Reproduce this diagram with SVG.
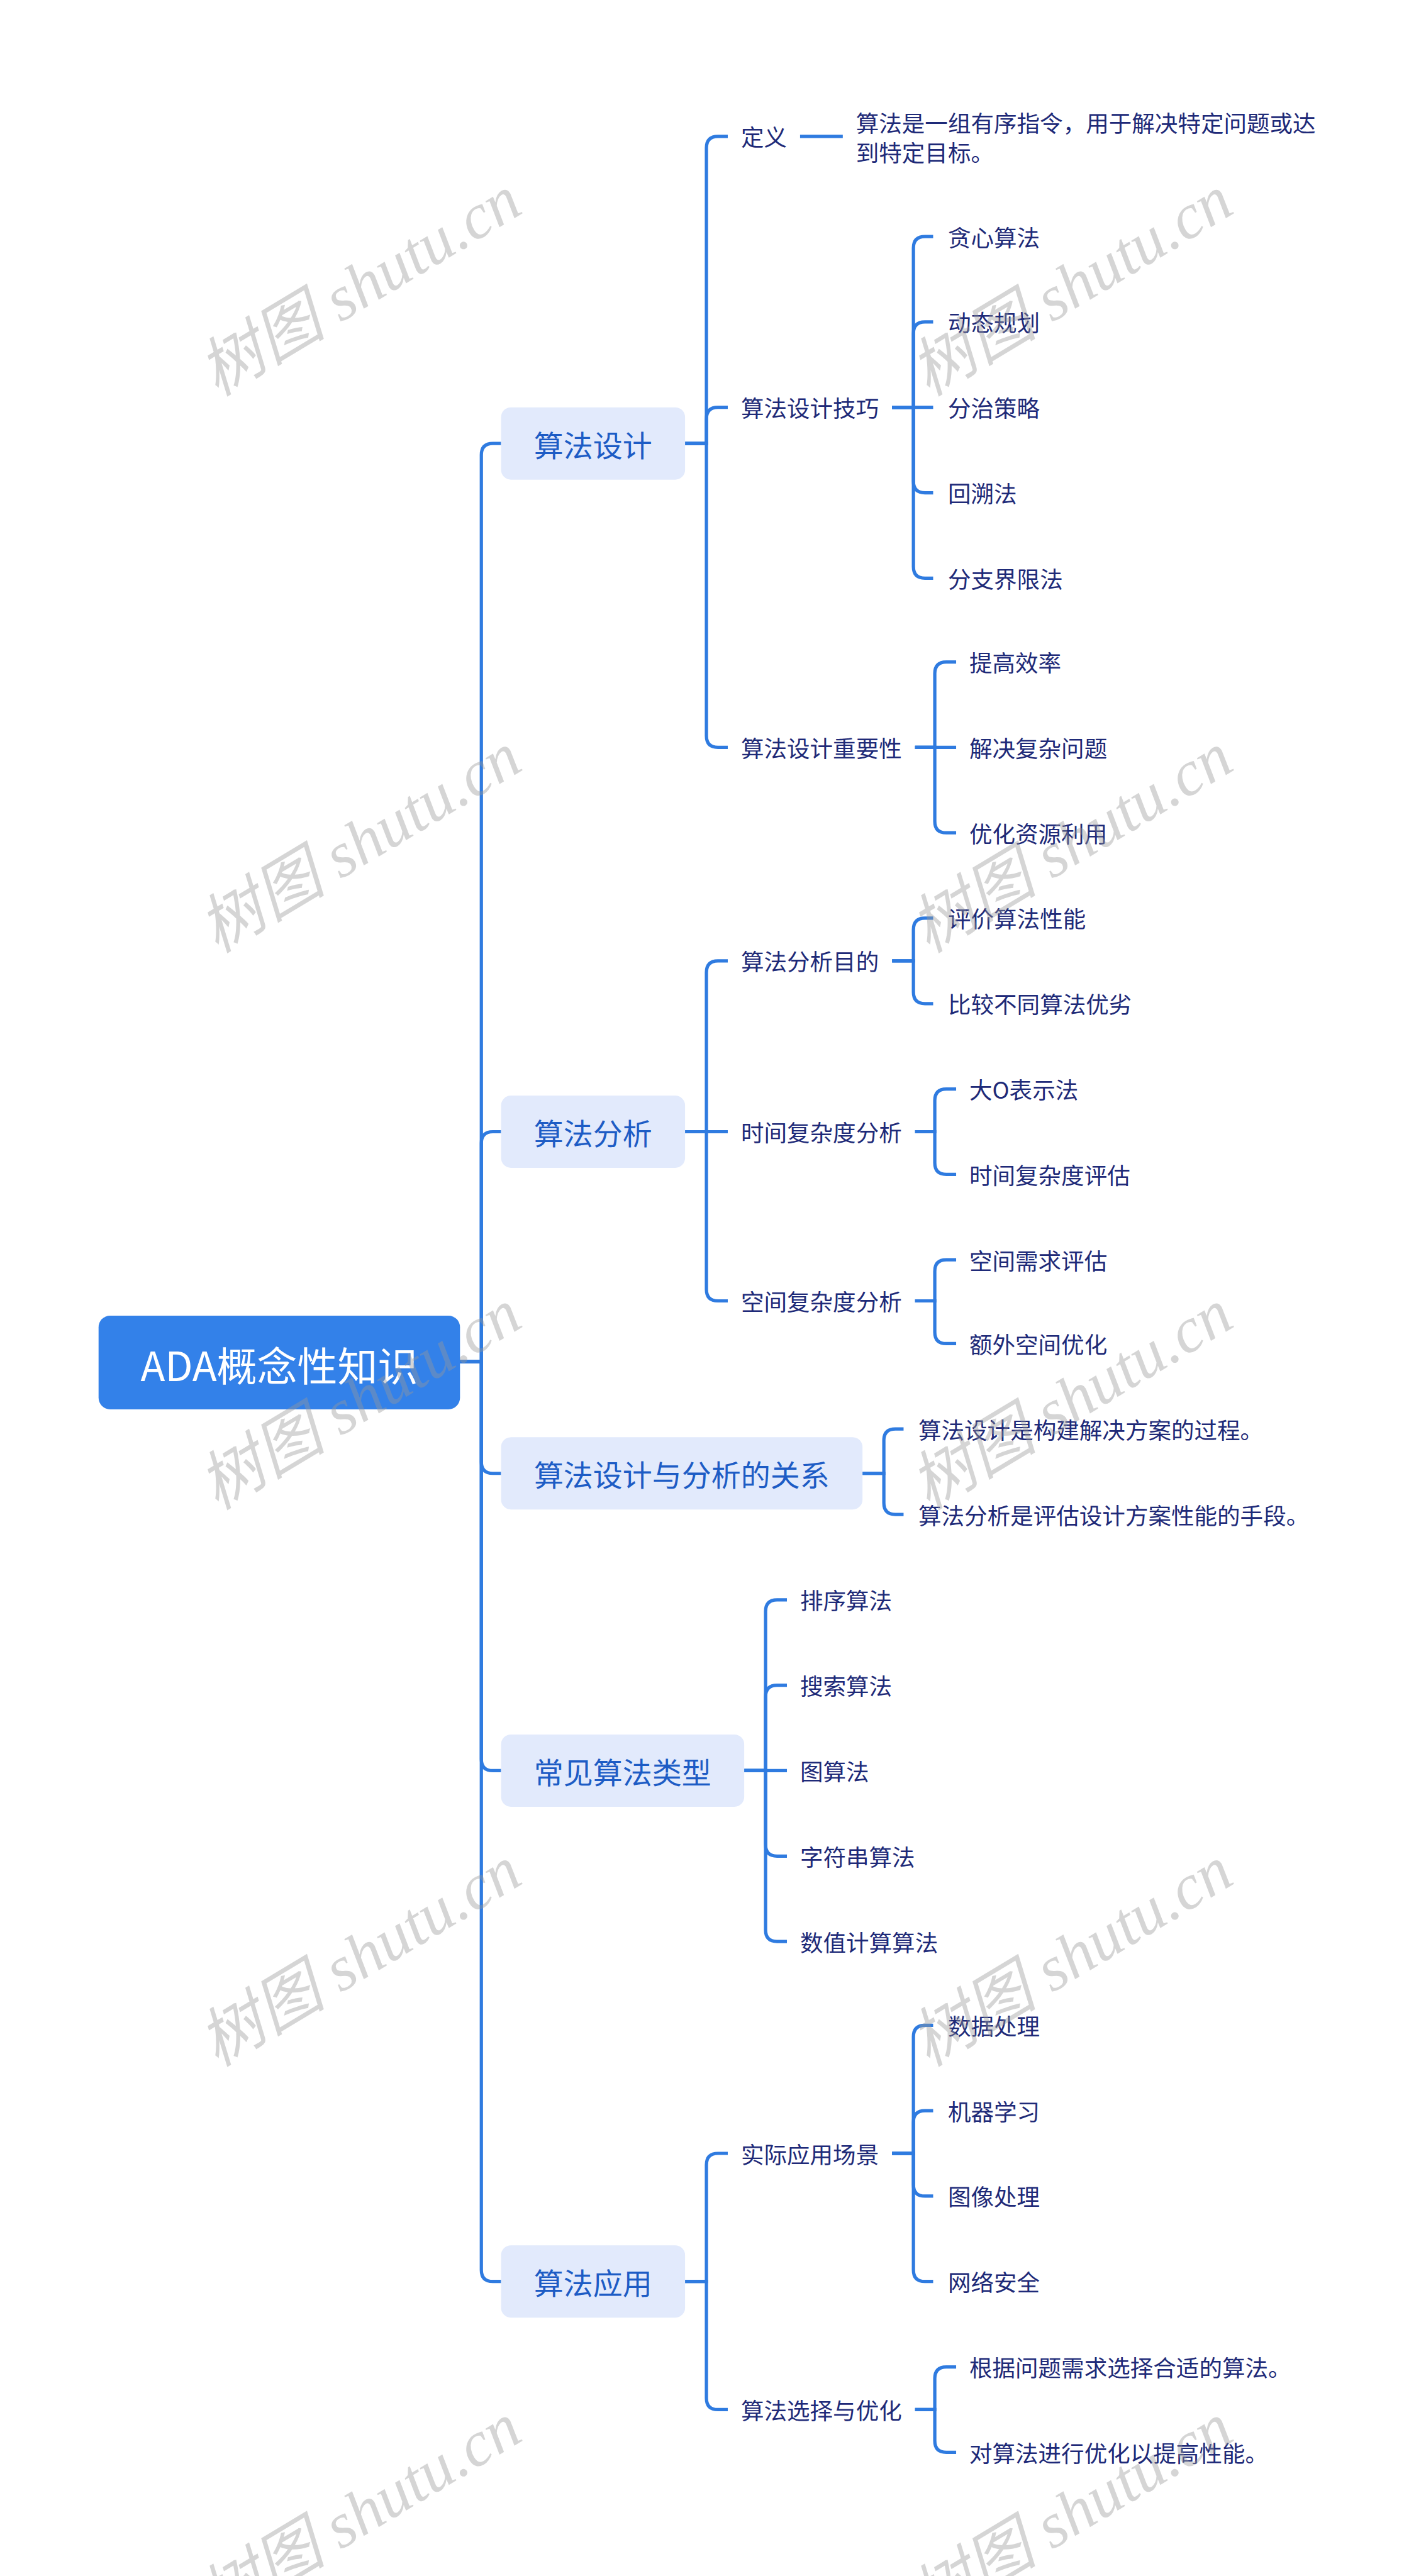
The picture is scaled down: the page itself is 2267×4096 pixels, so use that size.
<svg xmlns="http://www.w3.org/2000/svg" width="2267" height="4096" viewBox="0 0 2267 4096">
<style>
.c{fill:none;stroke:#2F7BE0;stroke-width:2}
.t{font-family:"Noto Sans CJK SC","Noto Sans",sans-serif;font-size:14px;fill:#1E2A78;dominant-baseline:central}
.b1{fill:#E2EAFC}
.t1{font-family:"Noto Sans CJK SC","Noto Sans",sans-serif;font-size:18px;fill:#1D5CC5;dominant-baseline:central;text-anchor:middle}
.t0{font-family:"Noto Sans CJK SC","Noto Sans",sans-serif;font-size:24.5px;fill:#FFFFFF;dominant-baseline:central;text-anchor:middle}
.wm{font-family:"Liberation Serif","Noto Sans CJK SC",serif;font-style:italic;font-size:39px;fill:#999999;opacity:0.4;text-anchor:middle;dominant-baseline:central}
</style>
<rect width="2267" height="4096" fill="#FFFFFF"/>
<g transform="scale(2.61175)">
<g id="connectors">
<path class="c" d="M280 829 H293 V277 Q293 270 300 270 H305"/>
<path class="c" d="M280 829 H293 V696 Q293 689 300 689 H305"/>
<path class="c" d="M280 829 H293 V890 Q293 897 300 897 H305"/>
<path class="c" d="M280 829 H293 V1071 Q293 1078 300 1078 H305"/>
<path class="c" d="M280 829 H293 V1382 Q293 1389 300 1389 H305"/>
<path class="c" d="M417 270 H430 V90 Q430 83 437 83 H443"/>
<path class="c" d="M417 270 H430 V255 Q430 248 437 248 H443"/>
<path class="c" d="M417 270 H430 V448 Q430 455 437 455 H443"/>
<path class="c" d="M487 83 H513"/>
<path class="c" d="M543 248 H556 V151 Q556 144 563 144 H568"/>
<path class="c" d="M543 248 H556 V203 Q556 196 563 196 H568"/>
<path class="c" d="M543 248 H568"/>
<path class="c" d="M543 248 H556 V293 Q556 300 563 300 H568"/>
<path class="c" d="M543 248 H556 V345 Q556 352 563 352 H568"/>
<path class="c" d="M557 455 H569 V410 Q569 403 576 403 H582"/>
<path class="c" d="M557 455 H582"/>
<path class="c" d="M557 455 H569 V500 Q569 507 576 507 H582"/>
<path class="c" d="M417 689 H430 V592 Q430 585 437 585 H443"/>
<path class="c" d="M417 689 H443"/>
<path class="c" d="M417 689 H430 V785 Q430 792 437 792 H443"/>
<path class="c" d="M543 585 H556 V566 Q556 559 563 559 H568"/>
<path class="c" d="M543 585 H556 V604 Q556 611 563 611 H568"/>
<path class="c" d="M557 689 H569 V670 Q569 663 576 663 H582"/>
<path class="c" d="M557 689 H569 V708 Q569 715 576 715 H582"/>
<path class="c" d="M557 792 H569 V774 Q569 767 576 767 H582"/>
<path class="c" d="M557 792 H569 V811 Q569 818 576 818 H582"/>
<path class="c" d="M525 897 H538 V877 Q538 870 545 870 H550"/>
<path class="c" d="M525 897 H538 V915 Q538 922 545 922 H550"/>
<path class="c" d="M453 1078 H466 V981 Q466 974 473 974 H479"/>
<path class="c" d="M453 1078 H466 V1033 Q466 1026 473 1026 H479"/>
<path class="c" d="M453 1078 H479"/>
<path class="c" d="M453 1078 H466 V1123 Q466 1130 473 1130 H479"/>
<path class="c" d="M453 1078 H466 V1175 Q466 1182 473 1182 H479"/>
<path class="c" d="M417 1389 H430 V1318 Q430 1311 437 1311 H443"/>
<path class="c" d="M417 1389 H430 V1460 Q430 1467 437 1467 H443"/>
<path class="c" d="M543 1311 H556 V1240 Q556 1233 563 1233 H568"/>
<path class="c" d="M543 1311 H556 V1292 Q556 1285 563 1285 H568"/>
<path class="c" d="M543 1311 H556 V1330 Q556 1337 563 1337 H568"/>
<path class="c" d="M543 1311 H556 V1382 Q556 1389 563 1389 H568"/>
<path class="c" d="M557 1467 H569 V1448 Q569 1441 576 1441 H582"/>
<path class="c" d="M557 1467 H569 V1486 Q569 1493 576 1493 H582"/>
</g>
<g id="root"><rect x="60" y="801" width="220" height="57" rx="7" fill="#3381E9"/><text class="t0" x="170" y="830">ADA概念性知识</text></g>
<g id="n1"><rect class="b1" x="305" y="248" width="112" height="44" rx="6"/><text class="t1" x="361" y="270">算法设计</text></g>
<g id="n2"><rect class="b1" x="305" y="667" width="112" height="44" rx="6"/><text class="t1" x="361" y="689">算法分析</text></g>
<g id="n3"><rect class="b1" x="305" y="875" width="220" height="44" rx="6"/><text class="t1" x="415" y="897">算法设计与分析的关系</text></g>
<g id="n4"><rect class="b1" x="305" y="1056" width="148" height="44" rx="6"/><text class="t1" x="379" y="1078">常见算法类型</text></g>
<g id="n5"><rect class="b1" x="305" y="1367" width="112" height="44" rx="6"/><text class="t1" x="361" y="1389">算法应用</text></g>
<g id="n1a"><text class="t" x="451" y="83">定义</text></g>
<g id="n1a1"><text class="t" x="521" y="74.5">算法是一组有序指令，用于解决特定问题或达</text><text class="t" x="521" y="92.5">到特定目标。</text></g>
<g id="n1b"><text class="t" x="451" y="248">算法设计技巧</text></g>
<g id="n1b1"><text class="t" x="577" y="144">贪心算法</text></g>
<g id="n1b2"><text class="t" x="577" y="196">动态规划</text></g>
<g id="n1b3"><text class="t" x="577" y="248">分治策略</text></g>
<g id="n1b4"><text class="t" x="577" y="300">回溯法</text></g>
<g id="n1b5"><text class="t" x="577" y="352">分支界限法</text></g>
<g id="n1c"><text class="t" x="451" y="455">算法设计重要性</text></g>
<g id="n1c1"><text class="t" x="590" y="403">提高效率</text></g>
<g id="n1c2"><text class="t" x="590" y="455">解决复杂问题</text></g>
<g id="n1c3"><text class="t" x="590" y="507">优化资源利用</text></g>
<g id="n2a"><text class="t" x="451" y="585">算法分析目的</text></g>
<g id="n2a1"><text class="t" x="577" y="559">评价算法性能</text></g>
<g id="n2a2"><text class="t" x="577" y="611">比较不同算法优劣</text></g>
<g id="n2b"><text class="t" x="451" y="689">时间复杂度分析</text></g>
<g id="n2b1"><text class="t" x="590" y="663">大O表示法</text></g>
<g id="n2b2"><text class="t" x="590" y="715">时间复杂度评估</text></g>
<g id="n2c"><text class="t" x="451" y="792">空间复杂度分析</text></g>
<g id="n2c1"><text class="t" x="590" y="767">空间需求评估</text></g>
<g id="n2c2"><text class="t" x="590" y="818">额外空间优化</text></g>
<g id="n3a"><text class="t" x="559" y="870">算法设计是构建解决方案的过程。</text></g>
<g id="n3b"><text class="t" x="559" y="922">算法分析是评估设计方案性能的手段。</text></g>
<g id="n4a"><text class="t" x="487" y="974">排序算法</text></g>
<g id="n4b"><text class="t" x="487" y="1026">搜索算法</text></g>
<g id="n4c"><text class="t" x="487" y="1078">图算法</text></g>
<g id="n4d"><text class="t" x="487" y="1130">字符串算法</text></g>
<g id="n4e"><text class="t" x="487" y="1182">数值计算算法</text></g>
<g id="n5a"><text class="t" x="451" y="1311">实际应用场景</text></g>
<g id="n5a1"><text class="t" x="577" y="1233">数据处理</text></g>
<g id="n5a2"><text class="t" x="577" y="1285">机器学习</text></g>
<g id="n5a3"><text class="t" x="577" y="1337">图像处理</text></g>
<g id="n5a4"><text class="t" x="577" y="1389">网络安全</text></g>
<g id="n5b"><text class="t" x="451" y="1467">算法选择与优化</text></g>
<g id="n5b1"><text class="t" x="590" y="1441">根据问题需求选择合适的算法。</text></g>
<g id="n5b2"><text class="t" x="590" y="1493">对算法进行优化以提高性能。</text></g>
<g id="watermarks">
<text class="wm" transform="translate(219,174) rotate(-31)">树图 shutu.cn</text>
<text class="wm" transform="translate(652,174) rotate(-31)">树图 shutu.cn</text>
<text class="wm" transform="translate(219,513) rotate(-31)">树图 shutu.cn</text>
<text class="wm" transform="translate(652,513) rotate(-31)">树图 shutu.cn</text>
<text class="wm" transform="translate(219,852) rotate(-31)">树图 shutu.cn</text>
<text class="wm" transform="translate(652,852) rotate(-31)">树图 shutu.cn</text>
<text class="wm" transform="translate(219,1191) rotate(-31)">树图 shutu.cn</text>
<text class="wm" transform="translate(652,1191) rotate(-31)">树图 shutu.cn</text>
<text class="wm" transform="translate(219,1530) rotate(-31)">树图 shutu.cn</text>
<text class="wm" transform="translate(652,1530) rotate(-31)">树图 shutu.cn</text>
</g>
</g>
</svg>
